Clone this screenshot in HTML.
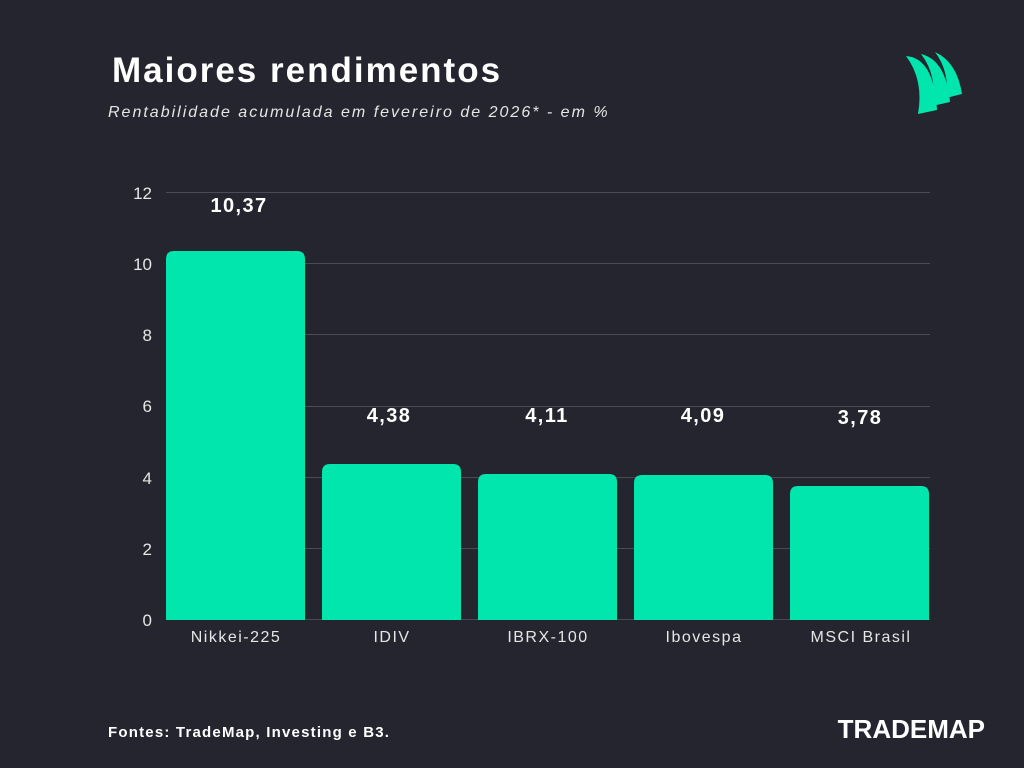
<!DOCTYPE html>
<html><head><meta charset="utf-8"><style>
body{margin:0;background:#24252f;}
svg{display:block}
</style></head><body>
<svg width="1024" height="768" viewBox="0 0 1024 768" xmlns="http://www.w3.org/2000/svg" font-family="Liberation Sans, sans-serif">
<rect width="1024" height="768" fill="#24252f"/>
<text x="112" y="82" fill="#fff" font-size="35" font-weight="bold" letter-spacing="2">Maiores rendimentos</text>
<text x="108" y="117" fill="#e6e6e6" font-size="16" font-style="italic" letter-spacing="2">Rentabilidade acumulada em fevereiro de 2026* - em %</text>
<g fill="#00e6ac">
<path d="M906 56 Q934 58 937 110 L918 114 Q924 80 906 56Z"/>
<path d="M921 54 Q946 60 950 102 L932 106 Q938 76 921 54Z"/>
<path d="M935 52 Q957 62 962 94 L946 98 Q950 72 935 52Z"/>
</g>
<g stroke="#4a4b55" stroke-width="1">
<line x1="166" y1="192.5" x2="930" y2="192.5"/>
<line x1="166" y1="263.5" x2="930" y2="263.5"/>
<line x1="166" y1="334.5" x2="930" y2="334.5"/>
<line x1="166" y1="406.5" x2="930" y2="406.5"/>
<line x1="166" y1="477.5" x2="930" y2="477.5"/>
<line x1="166" y1="548.5" x2="930" y2="548.5"/>
<line x1="166" y1="619.5" x2="930" y2="619.5"/>
</g>
<g fill="#e6e6e6" font-size="17" text-anchor="end">
<text x="152" y="199">12</text><text x="152" y="270">10</text><text x="152" y="341">8</text>
<text x="152" y="412">6</text><text x="152" y="484">4</text><text x="152" y="555">2</text><text x="152" y="626">0</text>
</g>
<g fill="#00e6ac">
<path d="M166 620 V259 Q166 251 174 251 H297 Q305 251 305 259 V620Z"/>
<path d="M322 620 V472 Q322 464 330 464 H453 Q461 464 461 472 V620Z"/>
<path d="M478 620 V482 Q478 474 486 474 H609 Q617 474 617 482 V620Z"/>
<path d="M634 620 V483 Q634 475 642 475 H765 Q773 475 773 483 V620Z"/>
<path d="M790 620 V494 Q790 486 798 486 H921 Q929 486 929 494 V620Z"/>
</g>
<g fill="#fff" font-size="20" font-weight="bold" text-anchor="middle" letter-spacing="1.4">
<text x="239" y="212">10,37</text><text x="389" y="422">4,38</text><text x="547" y="422">4,11</text>
<text x="703" y="422">4,09</text><text x="860" y="424">3,78</text>
</g>
<g fill="#e6e6e6" font-size="16" text-anchor="middle" letter-spacing="1.5">
<text x="236" y="642">Nikkei-225</text><text x="392" y="642">IDIV</text><text x="548" y="642">IBRX-100</text>
<text x="704" y="642">Ibovespa</text><text x="861" y="642">MSCI Brasil</text>
</g>
<text x="108" y="737" fill="#fff" font-size="15" font-weight="bold" letter-spacing="1.2">Fontes: TradeMap, Investing e B3.</text>
<text x="985" y="738" fill="#fff" font-size="26" font-weight="bold" text-anchor="end">TRADEMAP</text>
</svg>
</body></html>
